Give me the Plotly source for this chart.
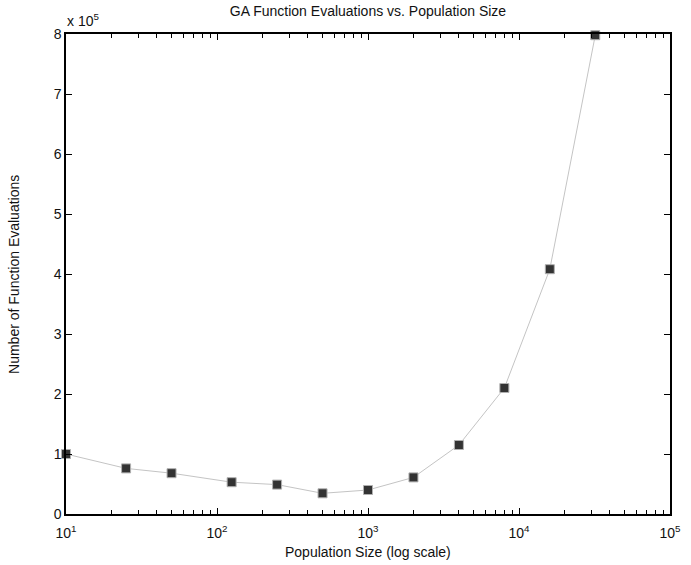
import plotly.graph_objects as go

pop_size = [10, 25, 50, 125, 250, 500, 1000, 2000, 4000, 8000, 16000, 32000]
func_evals = [100000, 76000, 68000, 53000, 49000, 34500, 40000, 61000, 115000, 210000, 408000, 798000]

x_tick_vals = [10, 100, 1000, 10000, 100000]
x_tick_text = ["10<sup>1</sup>", "10<sup>2</sup>", "10<sup>3</sup>", "10<sup>4</sup>", "10<sup>5</sup>"]
y_tick_vals = [0, 100000, 200000, 300000, 400000, 500000, 600000, 700000, 800000]
y_tick_text = ["0", "1", "2", "3", "4", "5", "6", "7", "8"]
minor_vals = [m * d for d in [10, 100, 1000, 10000] for m in range(2, 10)]

FONT = "Liberation Sans, Arial, sans-serif"
FS = 14

fig = go.Figure()
fig.add_trace(go.Scatter(
    x=pop_size, y=func_evals, mode="lines+markers",
    line=dict(color="#c4c4c4", width=1),
    marker=dict(symbol="square", size=9, color="#333333", line=dict(color="#b0b0b0", width=1)),
    showlegend=False, cliponaxis=False,
))

fig.update_layout(
    width=691, height=565,
    margin=dict(l=66, r=10, t=34, b=51),
    paper_bgcolor="white", plot_bgcolor="white",
    font=dict(family=FONT, size=FS, color="#111111"),
    title=dict(text="GA Function Evaluations vs. Population Size", x=368 / 691, xanchor="center",
               y=1 - 11 / 565, yanchor="middle", font=dict(size=FS, family=FONT, color="#111111")),
    xaxis=dict(type="log", range=[1, 5], tickvals=x_tick_vals, ticktext=x_tick_text,
               ticks="inside", ticklen=6, tickwidth=1, tickcolor="black",
               showline=True, linecolor="black", linewidth=1.5, mirror="allticks",
               showgrid=False, zeroline=False, ticklabelstandoff=5,
               minor=dict(tickvals=minor_vals, ticks="inside", ticklen=4, tickcolor="black", showgrid=False),
               tickfont=dict(size=FS)),
    yaxis=dict(range=[0, 800000], tickvals=y_tick_vals, ticktext=y_tick_text,
               ticks="inside", ticklen=6, tickwidth=1, tickcolor="black",
               showline=True, linecolor="black", linewidth=1.5, mirror="allticks",
               showgrid=False, zeroline=False, tickfont=dict(size=FS)),
    annotations=[
        dict(text="x 10<sup>5</sup>", xref="paper", yref="paper", x=-1 / 615, y=1, xanchor="left", yanchor="bottom",
             yshift=3, showarrow=False, font=dict(size=FS)),
        dict(text="Number of Function Evaluations", xref="paper", yref="paper", x=(13 - 66) / 615, y=0.5,
             xanchor="center", yanchor="middle", textangle=-90, showarrow=False, font=dict(size=FS)),
        dict(text="Population Size (log scale)", xref="paper", yref="paper", x=0.5, y=(514 - 552) / 480,
             xanchor="center", yanchor="middle", showarrow=False, font=dict(size=FS)),
    ],
)

fig.write_html("out.html", config={"displayModeBar": False},
               post_script="document.body.style.margin='0';document.body.style.padding='0';document.body.style.overflow='hidden';")
